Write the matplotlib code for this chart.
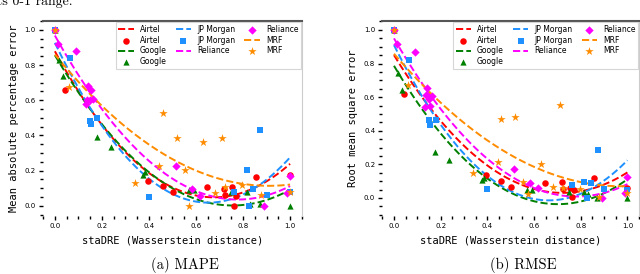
import numpy as np
import matplotlib
matplotlib.use("Agg")
import matplotlib.pyplot as plt
from matplotlib.ticker import AutoMinorLocator, MultipleLocator

# =========================
# DATA
# =========================
companies = ["Airtel", "Google", "JP Morgan", "Reliance", "MRF"]
colors = ["red", "green", "dodgerblue", "magenta", "darkorange"]
markers = ["o", "^", "s", "D", "*"]
marker_sizes = [22, 20, 18, 18, 40]

# staDRE (Wasserstein distance), shared by both panels
airtel_x = [0.0, 0.044, 0.395, 0.46, 0.503, 0.646, 0.72, 0.724, 0.755, 0.762, 0.77, 0.857, 1.0]
google_x = [0.0, 0.018, 0.033, 0.177, 0.237, 0.376, 0.384, 0.57, 0.59, 0.75, 0.815, 0.83, 0.87, 1.0]
jpm_x = [0.0, 0.064, 0.149, 0.153, 0.178, 0.40, 0.763, 0.816, 0.827, 0.844, 0.872, 0.90, 1.0]
reliance_x = [0.0, 0.015, 0.089, 0.132, 0.138, 0.142, 0.148, 0.155, 0.163,
              0.516, 0.583, 0.616, 0.891, 0.988, 1.0]
mrf_x = [0.0, 0.061, 0.34, 0.444, 0.46, 0.518, 0.553, 0.572, 0.629, 0.68,
         0.71, 0.723, 0.795, 0.878, 1.0]

# Mean absolute percentage error
airtel_mape = [1.0, 0.66, 0.142, 0.114, 0.08, 0.108, 0.097, 0.06, 0.108, 0.0, 0.057, 0.165, 0.176]
google_mape = [1.0, 0.83, 0.74, 0.39, 0.335, 0.175, 0.19, 0.093, 0.093, 0.076, 0.076, 0.01, 0.01, 0.0]
jpm_mape = [1.0, 0.84, 0.48, 0.465, 0.50, 0.05, 0.08, 0.205, 0.0, 0.097, 0.433, 0.06, 0.08]
reliance_mape = [1.0, 0.92, 0.877, 0.58, 0.60, 0.68, 0.60, 0.66, 0.605,
                 0.228, 0.095, 0.057, 0.0, 0.075, 0.172]
mrf_mape = [1.0, 0.674, 0.13, 0.226, 0.527, 0.385, 0.203, 0.0, 0.364, 0.074,
            0.387, 0.105, 0.12, 0.062, 0.08]

# Root mean square error
airtel_rmse = [1.0, 0.619, 0.137, 0.101, 0.066, 0.089, 0.095, 0.053, 0.06, 0.006, 0.048, 0.119, 0.06]
google_rmse = [1.0, 0.745, 0.643, 0.273, 0.224, 0.107, 0.119, 0.05, 0.045, 0.036, 0.034, 0.024, 0.0, 0.0]
jpm_rmse = [1.0, 0.818, 0.461, 0.432, 0.465, 0.053, 0.077, 0.095, 0.0, 0.09, 0.286, 0.053, 0.045]
reliance_rmse = [1.0, 0.915, 0.871, 0.54, 0.614, 0.653, 0.588, 0.549, 0.604,
                 0.173, 0.089, 0.06, 0.0, 0.03, 0.125]
mrf_rmse = [1.0, 0.67, 0.149, 0.214, 0.47, 0.482, 0.095, 0.024, 0.202, 0.065,
            0.553, 0.06, 0.053, 0.006, 0.03]

xs = [airtel_x, google_x, jpm_x, reliance_x, mrf_x]
mape = [airtel_mape, google_mape, jpm_mape, reliance_mape, mrf_mape]
rmse = [airtel_rmse, google_rmse, jpm_rmse, reliance_rmse, mrf_rmse]

panels = [
    ("Mean absolute percentage error", "(a) MAPE", mape, (-0.057, 1.051)),
    ("Root mean square error", "(b) RMSE", rmse, (-0.107, 1.054)),
]

# =========================
# FIGURE
# =========================
fig = plt.figure(figsize=(6.4, 2.74), dpi=100)
axes = [
    fig.add_axes([0.067, 0.212, 0.405, 0.712]),
    fig.add_axes([0.597, 0.212, 0.402, 0.712]),
]

# tail of the page text above the figure, cut off as in the source
fig.text(-0.004, 1 - 5 / 274, "ts 0-1 range.", family="cmr10", fontsize=10,
         va="baseline", ha="left")

grid = np.linspace(0, 1, 200)

for ax, (ylabel, caption, values, ylim) in zip(axes, panels):
    for name, c, m, ms, x, y in zip(companies, colors, markers, marker_sizes, xs, values):
        # quadratic trend fit of each company
        coef = np.polyfit(x, y, 2)
        ax.plot(grid, np.polyval(coef, grid), "--", color=c, lw=1.4, label=name)
        ax.scatter(x, y, color=c, marker=m, s=ms, label=name, zorder=3,
                   linewidths=0)

    ax.set_xlim(-0.051, 1.051)
    ax.set_ylim(*ylim)
    ax.xaxis.set_major_locator(MultipleLocator(0.2))
    ax.yaxis.set_major_locator(MultipleLocator(0.2))
    ax.xaxis.set_minor_locator(AutoMinorLocator(4))
    ax.yaxis.set_minor_locator(AutoMinorLocator(4))
    ax.tick_params(which="major", labelsize=5, length=3, width=1, pad=2)
    ax.tick_params(which="minor", length=2, width=1)

    ax.spines["top"].set_color("#555555")
    ax.spines["top"].set_linewidth(1.5)
    ax.spines["right"].set_color("#cccccc")
    ax.spines["left"].set_visible(False)
    ax.spines["bottom"].set_visible(False)

    ax.set_ylabel(ylabel, family="DejaVu Sans Mono", fontsize=7.5, labelpad=4)
    ax.set_xlabel("staDRE (Wasserstein distance)", family="DejaVu Sans Mono",
                  fontsize=7.5, labelpad=5)

    leg = ax.legend(ncol=3, loc="upper right", fontsize=5.5, frameon=True,
                    borderaxespad=0.2, handlelength=2.0, columnspacing=1.2,
                    labelspacing=0.25, borderpad=0.3, fancybox=False)
    leg.get_frame().set_edgecolor("#cccccc")
    leg.get_frame().set_linewidth(0.8)

    pos = ax.get_position()
    fig.text(pos.x0 + pos.width / 2 + 0.02, 0.005, caption, family="cmr10",
             fontsize=10.5, ha="center", va="bottom")

fig.savefig("out.png", dpi=100)
